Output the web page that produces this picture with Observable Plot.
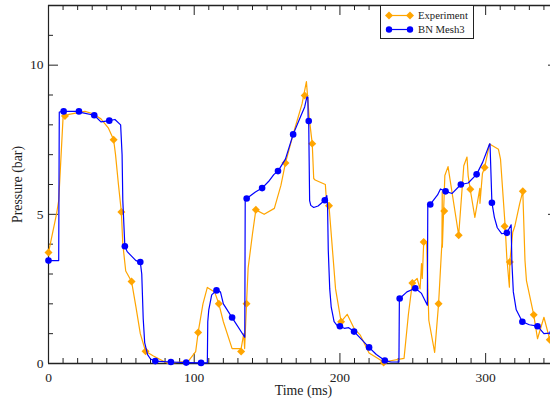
<!DOCTYPE html>
<html>
<head>
<meta charset="utf-8">
<script src="https://cdn.jsdelivr.net/npm/d3@7"></script>
<script src="https://cdn.jsdelivr.net/npm/@observablehq/plot@0.6"></script>
<style>
html,body{margin:0;padding:0;background:#fff;overflow:hidden;width:550px;height:401px}
#chart{position:absolute;left:0;top:0;width:559px;height:401px}
#chart svg{display:block}
#legend{position:absolute;left:380px;top:5px;width:92px;height:32px;background:#fff;border:1px solid #222;font:10.7px "Liberation Serif",serif;color:#222}
#legend svg{position:absolute;left:0;top:0}
#legend span{position:absolute;left:37px;line-height:12px}
</style>
</head>
<body>
<div id="chart"></div>
<div id="legend">
  <svg width="92" height="32">
    <line x1="8" x2="29" y1="9.5" y2="9.5" stroke="#ffa500" stroke-width="1.2"/>
    <path d="M8 5.5l4 4-4 4-4-4z M29 5.5l4 4-4 4-4-4z" fill="#ffa500"/>
    <line x1="8" x2="29" y1="23.5" y2="23.5" stroke="#0000ff" stroke-width="1.2"/>
    <circle cx="8" cy="23.5" r="3.2" fill="#0000ff"/><circle cx="29" cy="23.5" r="3.2" fill="#0000ff"/>
  </svg>
  <span style="top:3px">Experiment</span>
  <span style="top:17px">BN Mesh3</span>
</div>
<script>
const seriesNames = ["Experiment", "BN Mesh3"];
const expT = [0,5.6,7,10,11.3,14,25,30,36,41,44.7,46,48,50,51,53,57,60,63,66.6,72,82,96,101,102.7,106,109,114,116.9,120,126,132.2,134,134.6,135.9,137,140,142.3,148,155,159.5,162.6,168,174,177,179,181,182,183,190,190.7,192.5,197,200.8,205,210,214,220,230,244,247,249.7,253,255,256,256.5,257.5,259.5,261,265,267.7,270,270.2,270.3,272,274.2,281.5,285,287.2,288,289.4,292.6,296,296.1,297.8,299.3,302.7,308.8,310.2,313.4,314.5,316.3,316.6,318.6,320,323.4,325.5,327,328,333,335.6,340,344,350];
const expP = [3.72,5.03,5.46,8.25,8.3,8.35,8.45,8.38,8.2,7.9,7.5,7,6,5.08,4,3.1,2.75,1.9,1,0.41,0.25,0,0.08,0.4,1.04,2,2.55,2.4,2,1.4,0.5,0.5,1,0.5,2,3.2,4.35,5.15,5,5.2,5.97,6.72,7.7,8.7,9.45,8.2,7.37,6.2,6.15,6,5.5,5.29,2.5,1.4,1.65,1.15,0.95,0.35,0.05,0.17,1.65,2.7,2.85,2.5,3.35,2.85,4.07,4.07,1.45,0.37,2,4.05,5.75,3.9,6.3,6.6,4.3,6.63,6.92,6.3,5.84,4.9,5.87,5.37,6.37,6.57,7.36,7.18,6.85,4.6,3.57,2.56,3.4,4.4,4.6,5.37,5.77,3.45,2.78,1.63,0.83,1.55,0.8,1.1];
const expMarkT = [0,11.3,44.7,50,57,66.6,102.7,116.9,132.2,135.9,142.3,162.6,175.8,181,192.5,200.8,230,249.7,257.5,267.7,271.6,281.5,289.5,299.3,313,316.6,325.5,333,344];
const expMarkP = [3.72,8.3,7.5,5.08,2.75,0.41,1.04,2,0.4,2,5.15,6.72,8.98,7.37,5.29,1.4,0.03,2.7,4.07,2,5.11,4.3,5.84,6.57,4.6,3.4,5.77,1.63,0.8];
const bnT = [0,7,7.4,10.4,20.9,22,31.4,36,41.7,45.6,49.5,50.5,51,52.4,54,57,60,63,64,65,66,68,70,73.3,84,94.5,104.7,109,109.3,110,112,115.3,118,119,120,126,134.7,135,136,142,146.6,151,154.6,157.5,162.6,167.9,172.5,175.8,177.3,178,178.2,178.6,179.2,180,182,185,189.6,191,191.5,192,193,194,196,198,200,203,206,209.7,214,220,225,230.8,235,240.5,240.8,241,246,251.7,256,260,260.3,262,267,269,272.5,277,283,288,293.8,298,302.7,303,304.3,306,308,311,314.6,317.5,318,319,321,325.2,330,335.6,340,344,350];
const bnP = [3.45,3.45,8.43,8.45,8.45,8.42,8.32,8.1,8.14,8.18,8,7,5.46,3.93,3.75,3.6,3.45,3.4,3,1.5,0.7,0.3,0.15,0.08,0.05,0.03,0.02,0.02,1.4,1.8,2.3,2.45,2.4,2.2,2,1.54,0.88,5.5,5.53,5.75,5.88,6.1,6.33,6.45,6.85,7.68,8.22,8.6,8.93,8.93,8.13,8,5.46,5.3,5.23,5.28,5.47,5.63,5.3,3.8,2.5,1.9,1.4,1.28,1.25,1.18,1.2,1.07,0.85,0.54,0.3,0.1,0.05,0.05,2.18,2.18,2.4,2.52,2.35,1.95,5.33,5.33,5.65,5.85,5.77,5.7,6,6.05,6.34,6.75,7.36,7.36,5.39,4.9,4.55,4.35,4.38,4.65,3.4,2.4,1.8,1.4,1.3,1.25,1,1.02,1.05];
const bnMarkT = [0,10.4,20.9,31.4,41.7,52.4,63,73.3,84,94.5,104.7,115.3,126,136,146.6,157.5,167.9,178.6,189.6,200,209.7,220,230.8,241,251.7,262,272.5,283,293.8,304.3,314.6,325.2,335.6,346];
const bnMarkP = [3.45,8.45,8.45,8.32,8.14,3.93,3.4,0.08,0.05,0.03,0.02,2.45,1.54,5.53,5.88,6.45,7.68,8.13,5.47,1.25,1.07,0.54,0.1,2.18,2.52,5.33,5.77,6,6.34,5.39,4.38,1.4,1.25,1.02];
const xMajor = [0,100,200,300];
const xMinor = d3.range(0,351,10).filter(v => v % 100 !== 0);
const yMajor = [0,5,10];
const yMinor = d3.range(0,13,1).filter(v => v % 5 !== 0);
const toPts = (a,b) => a.map((t,i) => ({t, p:b[i]}));
const font = '"Liberation Serif", "Times New Roman", serif';
const ink = "#222";
const W = 559, H = 401, mL = 48, mR = 1, mT = 5, mB = 38;
const fw = W - mL - mR, fh = H - mT - mB;
const tickStyle = {stroke:ink, strokeWidth:1};
const chart = Plot.plot({
  width:W, height:H,
  marginLeft:mL, marginRight:mR, marginTop:mT, marginBottom:mB,
  style:{fontFamily:font, background:"transparent", overflow:"visible"},
  x:{domain:[0,350], label:null},
  y:{domain:[0,12], label:null},
  marks:[
    Plot.tickX(xMinor, {x:d=>d, insetTop:fh-5, ...tickStyle}),
    Plot.tickX(xMajor, {x:d=>d, insetTop:fh-10, ...tickStyle}),
    Plot.tickX(xMinor, {x:d=>d, insetBottom:fh-5, ...tickStyle}),
    Plot.tickX(xMajor, {x:d=>d, insetBottom:fh-10, ...tickStyle}),
    Plot.tickY(yMinor, {y:d=>d, insetRight:fw-5, ...tickStyle}),
    Plot.tickY(yMajor, {y:d=>d, insetRight:fw-10, ...tickStyle}),
    Plot.tickY(yMinor, {y:d=>d, insetLeft:fw-5, ...tickStyle}),
    Plot.tickY(yMajor, {y:d=>d, insetLeft:fw-10, ...tickStyle}),
    Plot.axisX({anchor:"bottom", ticks:xMajor, tickSize:0, tickPadding:9, fontSize:13.5, fill:ink, tickFormat:d=>String(d), label:"Time (ms)", labelAnchor:"center", labelArrow:"none", labelOffset:31}),
    Plot.axisY({anchor:"left", ticks:yMajor, tickSize:0, tickPadding:5, fontSize:13.5, fill:ink, tickFormat:d=>String(d), label:"Pressure (bar)", labelAnchor:"center", labelArrow:"none", labelOffset:36}),
    Plot.ruleY([0], {stroke:ink, strokeWidth:1.6}),
    Plot.ruleY([12], {stroke:ink, strokeWidth:1.4}),
    Plot.ruleX([0], {stroke:ink, strokeWidth:1.2}),
    Plot.ruleX([350], {stroke:ink, strokeWidth:1.2}),
    Plot.line(toPts(expT,expP), {x:"t", y:"p", stroke:"#ffa500", strokeWidth:1.2, curve:"linear"}),
    Plot.dot(toPts(expMarkT,expMarkP), {x:"t", y:"p", symbol:"diamond2", r:3.6, fill:"#ffa500"}),
    Plot.line(toPts(bnT,bnP), {x:"t", y:"p", stroke:"#0000ff", strokeWidth:1.2, curve:"linear"}),
    Plot.dot(toPts(bnMarkT,bnMarkP), {x:"t", y:"p", r:3.3, fill:"#0000ff"})
  ]
});
chart.querySelectorAll('[aria-label="x-axis label"] text, [aria-label="y-axis label"] text').forEach(t => t.style.fontSize = "13.8px");
document.getElementById("chart").appendChild(chart);
</script>
</body>
</html>
